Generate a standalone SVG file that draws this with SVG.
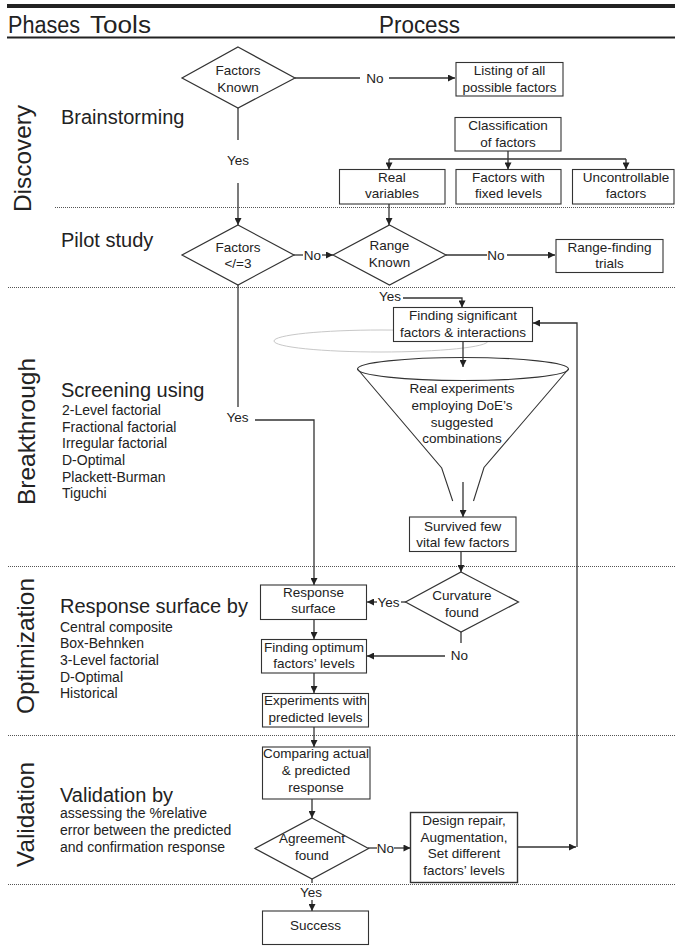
<svg xmlns="http://www.w3.org/2000/svg" width="675" height="947" viewBox="0 0 675 947">
<defs>
<marker id="ah" viewBox="0 0 10 10" refX="10" refY="5" markerWidth="8" markerHeight="7" markerUnits="userSpaceOnUse" orient="auto"><path d="M0,0 L10,5 L0,10 z" fill="#222"/></marker>
<style>
text{font-family:"Liberation Sans",Arial,sans-serif;fill:#222}
.n{font-size:13.5px;text-anchor:middle}
.lab{font-size:13.5px;text-anchor:middle}
.hd{font-size:23px}
.ph{font-size:24px;text-anchor:middle}
.tool{font-size:20px}
.sub{font-size:14px}
.box{fill:#fff;stroke:#333;stroke-width:1.1}
.dia{fill:#fff;stroke:#333;stroke-width:1.2}
.c{fill:none;stroke:#333;stroke-width:1.3}
.ca{fill:none;stroke:#333;stroke-width:1.3;marker-end:url(#ah)}
.dot{stroke:#555;stroke-width:1;stroke-dasharray:1 1}
</style>
</defs>
<rect width="675" height="947" fill="#fff"/>
<g id="header">
<rect x="7" y="4" width="668" height="4" fill="#222"/>
<text class="hd" x="8" y="33" textLength="72" lengthAdjust="spacingAndGlyphs">Phases</text>
<text class="hd" x="90" y="33" textLength="61" lengthAdjust="spacingAndGlyphs">Tools</text>
<text class="hd" x="379" y="33" textLength="81" lengthAdjust="spacingAndGlyphs">Process</text>
<rect x="7" y="36.5" width="668" height="2" fill="#222"/>
</g>
<g id="separators">
<line class="dot" x1="55" y1="207.5" x2="675" y2="207.5"/>
<line class="dot" x1="8" y1="287.5" x2="675" y2="287.5"/>
<line class="dot" x1="8" y1="566.5" x2="675" y2="566.5"/>
<line class="dot" x1="8" y1="735.5" x2="675" y2="735.5"/>
<line class="dot" x1="8" y1="884.5" x2="675" y2="884.5"/>
</g>
<g id="phases">
<text class="ph" transform="translate(31,158.5) rotate(-90)" textLength="107" lengthAdjust="spacingAndGlyphs">Discovery</text>
<text class="ph" transform="translate(35,431.5) rotate(-90)" textLength="147" lengthAdjust="spacingAndGlyphs">Breakthrough</text>
<text class="ph" transform="translate(34,646) rotate(-90)" textLength="136" lengthAdjust="spacingAndGlyphs">Optimization</text>
<text class="ph" transform="translate(34,814.5) rotate(-90)" textLength="105" lengthAdjust="spacingAndGlyphs">Validation</text>
</g>
<g id="tools">
<text class="tool" x="61" y="124">Brainstorming</text>
<text class="tool" x="61" y="246.5">Pilot study</text>
<text class="tool" x="61" y="396.5">Screening using</text>
<text class="sub" x="62" y="415">2-Level factorial</text>
<text class="sub" x="62" y="431.7">Fractional factorial</text>
<text class="sub" x="62" y="448.3">Irregular factorial</text>
<text class="sub" x="62" y="465">D-Optimal</text>
<text class="sub" x="62" y="481.7">Plackett-Burman</text>
<text class="sub" x="62" y="498.3">Tiguchi</text>
<text class="tool" x="60" y="613.3">Response surface by</text>
<text class="sub" x="60" y="631.7">Central composite</text>
<text class="sub" x="60" y="648.3">Box-Behnken</text>
<text class="sub" x="60" y="665">3-Level factorial</text>
<text class="sub" x="60" y="681.7">D-Optimal</text>
<text class="sub" x="60" y="698.3">Historical</text>
<text class="tool" x="60" y="801.7">Validation by</text>
<text class="sub" x="60" y="818.3">assessing the %relative</text>
<text class="sub" x="60" y="835">error between the predicted</text>
<text class="sub" x="60" y="851.7">and confirmation response</text>
</g>
<g id="connectors">
<ellipse cx="381" cy="341" rx="107" ry="11" fill="none" stroke="#c8c8c8" stroke-width="1"/>
<path class="c" d="M295,78 H360"/>
<text class="lab" x="375" y="83">No</text>
<path class="ca" d="M389,78 H455"/>
<path class="c" d="M508,151 V159 M389,159 H626"/>
<path class="ca" d="M389,159 V169.5"/>
<path class="ca" d="M508,159 V169.5"/>
<path class="ca" d="M626,159 V169.5"/>
<path class="c" d="M238,108 V140"/>
<text class="lab" x="238" y="165">Yes</text>
<path class="ca" d="M238,183 V225"/>
<path class="c" d="M294,255 H303"/>
<text class="lab" x="312.5" y="260">No</text>
<path class="ca" d="M322,255 H333"/>
<path class="ca" d="M389,204 V225"/>
<path class="c" d="M446,255 H487"/>
<text class="lab" x="496" y="260">No</text>
<path class="ca" d="M507,255 H555"/>
<text class="lab" x="390" y="301">Yes</text>
<path class="ca" d="M403,298 H462 V307.5"/>
<path class="ca" d="M463,342 V367"/>
<path class="ca" d="M463,482 V517"/>
<path class="c" d="M238,285 V407"/>
<text class="lab" x="237.5" y="421.5">Yes</text>
<path class="ca" d="M255,420 H314 V585"/>
<path class="ca" d="M461,552 V572"/>
<path class="c" d="M406,602 H401"/>
<text class="lab" x="388.5" y="607">Yes</text>
<path class="ca" d="M377,602 H367"/>
<path class="c" d="M461,632 V643"/>
<text class="lab" x="459.5" y="660">No</text>
<path class="ca" d="M445,656 H367"/>
<path class="ca" d="M314,619 V639"/>
<path class="ca" d="M314,673 V693"/>
<path class="ca" d="M314,727 V747"/>
<path class="ca" d="M312,799 V818"/>
<path class="c" d="M368,848 H377"/>
<text class="lab" x="385.5" y="853">No</text>
<path class="ca" d="M394,848 H410.5"/>
<path class="ca" d="M517,847 H576"/>
<path class="ca" d="M577,847 V323 H533"/>
<path class="c" d="M312,879 V883"/>
<text class="lab" x="311" y="897">Yes</text>
<path class="ca" d="M312,900 V911"/>
</g>
<g id="factors-known">
<polygon class="dia" points="238,47 295,78 238,108 182,78"/>
<text class="n" x="238" y="75">Factors</text>
<text class="n" x="238" y="92">Known</text>
</g>
<g id="listing">
<rect class="box" x="456" y="62.5" width="107" height="33.5"/>
<text class="n" x="509.5" y="75">Listing of all</text>
<text class="n" x="509.5" y="92">possible factors</text>
</g>
<g id="classification">
<rect class="box" x="455" y="117.5" width="106" height="33.5"/>
<text class="n" x="508" y="130">Classification</text>
<text class="n" x="508" y="146.7">of factors</text>
</g>
<g id="real-variables">
<rect class="box" x="339.5" y="169.5" width="105.5" height="34.5"/>
<text class="n" x="392" y="181.7">Real</text>
<text class="n" x="392" y="198.3">variables</text>
</g>
<g id="fixed-levels">
<rect class="box" x="456" y="169.5" width="105" height="34.5"/>
<text class="n" x="508.5" y="181.7">Factors with</text>
<text class="n" x="508.5" y="198.3">fixed levels</text>
</g>
<g id="uncontrollable">
<rect class="box" x="572.5" y="169.5" width="101.5" height="34.5"/>
<text class="n" x="626" y="181.7">Uncontrollable</text>
<text class="n" x="626" y="198.3">factors</text>
</g>
<g id="factors-le3">
<polygon class="dia" points="238,225 294,255 238,285 182,255"/>
<text class="n" x="238" y="251.7">Factors</text>
<text class="n" x="238" y="268.3">&lt;/=3</text>
</g>
<g id="range-known">
<polygon class="dia" points="389.5,225 446,255 389.5,285 333,255"/>
<text class="n" x="389.5" y="250">Range</text>
<text class="n" x="389.5" y="266.7">Known</text>
</g>
<g id="range-finding">
<rect class="box" x="556" y="239.5" width="107" height="33"/>
<text class="n" x="609.5" y="251.7">Range-finding</text>
<text class="n" x="609.5" y="268.3">trials</text>
</g>
<g id="finding-significant">
<rect class="box" x="393.5" y="307.5" width="139" height="34"/>
<text class="n" x="463" y="320">Finding significant</text>
<text class="n" x="463" y="336.7">factors &amp; interactions</text>
</g>
<g id="funnel">
<ellipse cx="463" cy="369" rx="105.5" ry="11.5" fill="none" stroke="#333" stroke-width="1.1"/>
<path class="c" d="M357.5,369 L441.7,468 L452.7,501 M568.5,369 L484,467.5 L473.5,501" style="stroke-width:1.1"/>
<text class="n" x="462" y="393.3">Real experiments</text>
<text class="n" x="462" y="410">employing DoE’s</text>
<text class="n" x="462" y="426.7">suggested</text>
<text class="n" x="462" y="443.3">combinations</text>
</g>
<g id="survived">
<rect class="box" x="409.5" y="517" width="106.5" height="34.5"/>
<text class="n" x="462.7" y="530.7">Survived few</text>
<text class="n" x="462.7" y="546.7">vital few factors</text>
</g>
<g id="curvature">
<polygon class="dia" points="461,572 518.5,602 461,632 405.5,602"/>
<text class="n" x="462" y="600">Curvature</text>
<text class="n" x="462" y="616.7">found</text>
</g>
<g id="response-surface">
<rect class="box" x="260.5" y="585" width="106" height="34.5"/>
<text class="n" x="313.5" y="596.7">Response</text>
<text class="n" x="313.5" y="613.3">surface</text>
</g>
<g id="finding-optimum">
<rect class="box" x="261.5" y="639.5" width="105" height="33.5"/>
<text class="n" x="314" y="651.7">Finding optimum</text>
<text class="n" x="314" y="668.3">factors’ levels</text>
</g>
<g id="experiments">
<rect class="box" x="262.5" y="693.5" width="106" height="33.5"/>
<text class="n" x="315.5" y="705">Experiments with</text>
<text class="n" x="315.5" y="721.7">predicted levels</text>
</g>
<g id="comparing">
<rect class="box" x="262.5" y="747" width="107.5" height="52"/>
<text class="n" x="316" y="758.3">Comparing actual</text>
<text class="n" x="316" y="775">&amp; predicted</text>
<text class="n" x="316" y="791.7">response</text>
</g>
<g id="agreement">
<polygon class="dia" points="312,818 368.5,848.5 312,879 255,848.5"/>
<text class="n" x="312" y="843.3">Agreement</text>
<text class="n" x="312" y="860">found</text>
</g>
<g id="design-repair">
<rect class="box" x="410.5" y="812.5" width="107" height="70" style="stroke-width:1.4"/>
<text class="n" x="464" y="825">Design repair,</text>
<text class="n" x="464" y="841.7">Augmentation,</text>
<text class="n" x="464" y="858.3">Set different</text>
<text class="n" x="464" y="875">factors’ levels</text>
</g>
<g id="success">
<rect class="box" x="262.5" y="911" width="106" height="33.5"/>
<text class="n" x="315.5" y="930">Success</text>
</g>
</svg>
